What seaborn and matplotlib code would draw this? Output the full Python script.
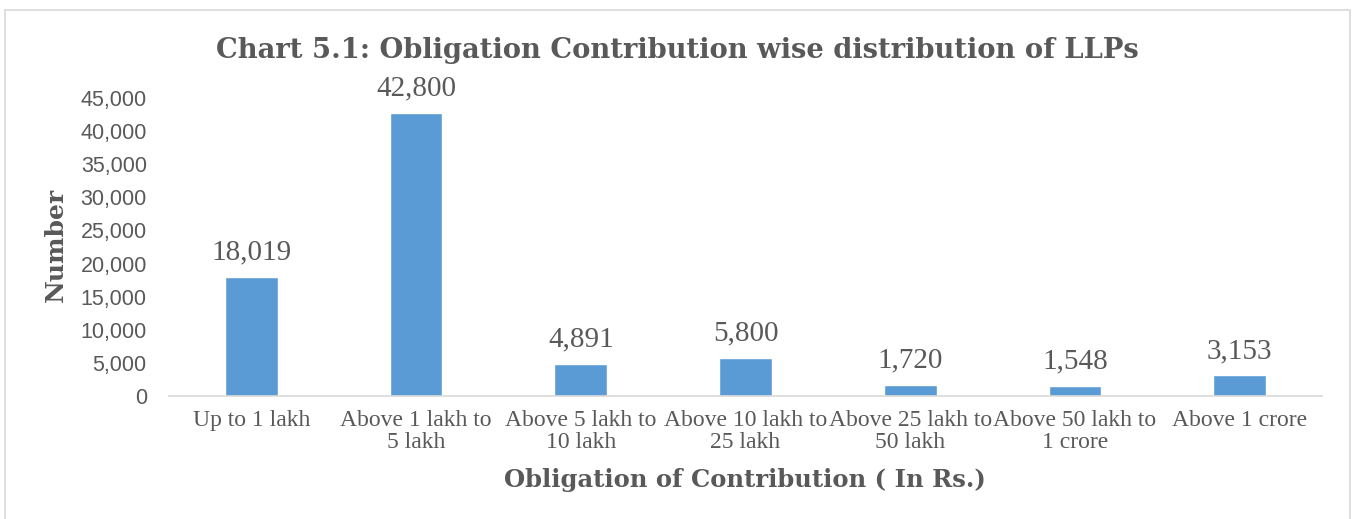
import matplotlib
matplotlib.use("Agg")
import matplotlib.pyplot as plt
import seaborn as sns
import pandas as pd
from matplotlib.patches import Rectangle

categories = ["Up to 1 lakh", "Above 1 lakh to\n5 lakh", "Above 5 lakh to\n10 lakh",
              "Above 10 lakh to\n25 lakh", "Above 25 lakh to\n50 lakh",
              "Above 50 lakh to\n1 crore", "Above 1 crore"]
values = [18019, 42800, 4891, 5800, 1720, 1548, 3153]
yticks = [0, 5000, 10000, 15000, 20000, 25000, 30000, 35000, 40000, 45000]

sns.set_theme(style="white")
TXT = "#595959"
df = pd.DataFrame({"cat": categories, "val": values})

W, H = 1354, 519
fig = plt.figure(figsize=(W / 100, H / 100), dpi=100)
ax_l, ax_r, ax_b, ax_t = 169, 1322, 396, 98
ax = fig.add_axes([ax_l / W, 1 - ax_b / H, (ax_r - ax_l) / W, (ax_b - ax_t) / H])
sns.barplot(data=df, x="cat", y="val", color="#5B9BD5", width=0.32, saturation=1, ax=ax)

ax.set_ylim(0, 45000)
ax.set_yticks(yticks)
ax.set_yticklabels([f"{t:,}" for t in yticks], family="Liberation Sans", fontsize=15.5, color=TXT)
ax.set_xticks(range(len(categories)))
ax.set_xticklabels(categories, family="Liberation Serif", fontsize=17, color=TXT, linespacing=1.1)
ax.tick_params(axis="both", length=0)
ax.tick_params(axis="x", pad=10)
ax.tick_params(axis="y", pad=16)
for s in ["top", "right", "left"]:
    ax.spines[s].set_visible(False)
ax.spines["bottom"].set_color("#D9D9D9")
ax.spines["bottom"].set_linewidth(1.2)
ax.grid(False)

for i, v in enumerate(values):
    ax.annotate(f"{v:,}", (i, v), xytext=(0, 8), textcoords="offset points",
                ha="center", va="bottom", family="Liberation Serif", fontsize=21, color=TXT)

ax.set_xlabel("Obligation of Contribution ( In Rs.)", family="DejaVu Serif", fontweight="bold",
              fontsize=17.5, color=TXT)
ax.set_ylabel("Number", family="DejaVu Serif", fontweight="bold", fontsize=18, color=TXT)
ax.xaxis.set_label_coords((745 - ax_l) / (ax_r - ax_l), (ax_b - 468) / (ax_b - ax_t))
ax.yaxis.set_label_coords((68 - ax_l) / (ax_r - ax_l), (ax_b - 245) / (ax_b - ax_t))

fig.text(677 / W, 1 - 50 / H, "Chart 5.1: Obligation Contribution wise distribution of LLPs",
         ha="center", va="center", family="DejaVu Serif", fontweight="bold", fontsize=19.7, color=TXT)

fig.patches.append(Rectangle((5 / W, -0.01), 1345 / W, 1 - 10 / H + 0.01, transform=fig.transFigure,
                             fill=False, edgecolor="#D9D9D9", linewidth=1.2))

fig.savefig("out.png", dpi=100)
